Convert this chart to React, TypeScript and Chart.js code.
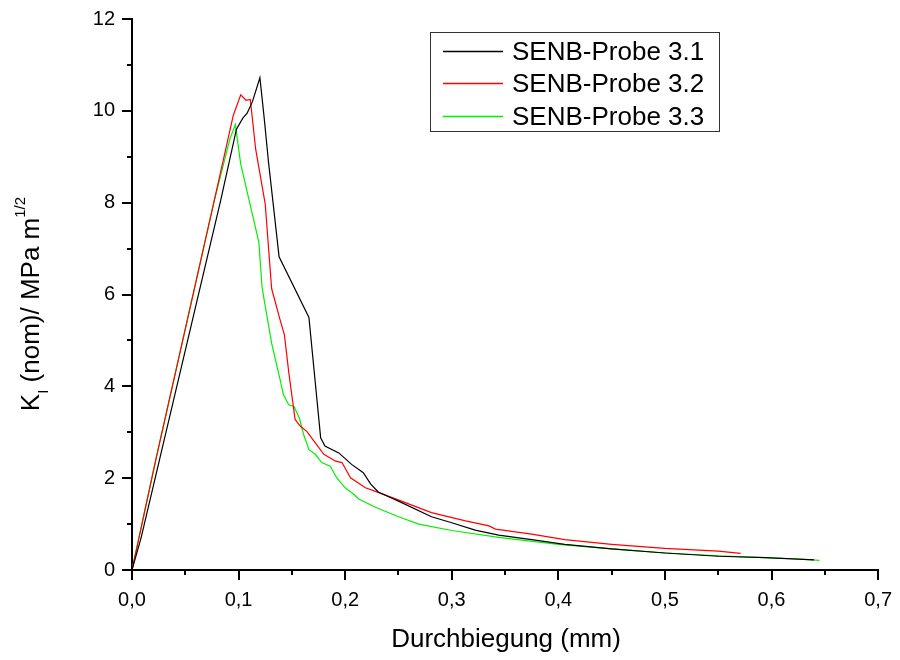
import { useEffect, useRef } from 'react';
import { Chart, registerables } from 'chart.js';

Chart.register(...registerables);

const FONT = '"Liberation Sans", Arial, Helvetica, sans-serif';

const seriesLabels = ['SENB-Probe 3.1', 'SENB-Probe 3.2', 'SENB-Probe 3.3'];
const seriesColors = ['#000000', '#ff0000', '#00f000'];

const probe31X = [0, 0.0084, 0.026, 0.083, 0.098, 0.104, 0.108, 0.113, 0.120, 0.124, 0.128, 0.138, 0.166, 0.177, 0.181, 0.194, 0.206, 0.217, 0.224, 0.231, 0.246, 0.250, 0.281, 0.300, 0.322, 0.344, 0.375, 0.406, 0.450, 0.500, 0.550, 0.594, 0.640];
const probe31Y = [0, 0.69, 2.42, 8.03, 9.6, 9.84, 9.95, 10.2, 10.72, 9.85, 8.9, 6.82, 5.5, 2.88, 2.70, 2.55, 2.30, 2.12, 1.87, 1.70, 1.54, 1.50, 1.16, 1.03, 0.87, 0.76, 0.66, 0.56, 0.46, 0.37, 0.30, 0.27, 0.22];

const probe32X = [0, 0.0225, 0.077, 0.095, 0.102, 0.107, 0.111, 0.116, 0.125, 0.131, 0.139, 0.143, 0.147, 0.153, 0.158, 0.164, 0.172, 0.180, 0.191, 0.197, 0.205, 0.219, 0.231, 0.246, 0.281, 0.313, 0.335, 0.341, 0.375, 0.406, 0.450, 0.500, 0.550, 0.571];
const probe32Y = [0, 2.42, 8.03, 9.9, 10.35, 10.23, 10.25, 9.17, 7.97, 6.13, 5.44, 5.12, 4.32, 3.28, 3.13, 3.02, 2.77, 2.52, 2.37, 2.34, 2.01, 1.79, 1.69, 1.56, 1.25, 1.07, 0.96, 0.89, 0.78, 0.66, 0.56, 0.47, 0.41, 0.36];

const probe33X = [0, 0.0225, 0.077, 0.092, 0.097, 0.102, 0.119, 0.122, 0.124, 0.131, 0.135, 0.139, 0.142, 0.147, 0.152, 0.157, 0.161, 0.166, 0.172, 0.178, 0.186, 0.192, 0.200, 0.208, 0.213, 0.230, 0.250, 0.269, 0.300, 0.344, 0.400, 0.450, 0.500, 0.550, 0.594, 0.625, 0.645];
const probe33Y = [0, 2.42, 8.03, 9.4, 9.7, 8.84, 7.14, 6.17, 5.88, 4.94, 4.54, 4.14, 3.82, 3.60, 3.56, 3.31, 2.95, 2.62, 2.52, 2.34, 2.26, 2.01, 1.79, 1.65, 1.54, 1.35, 1.16, 1.00, 0.86, 0.71, 0.56, 0.46, 0.37, 0.31, 0.27, 0.24, 0.21];

const xMinorTicks = [0.05, 0.15, 0.25, 0.35, 0.45, 0.55, 0.65];
const yMinorTicks = [1, 3, 5, 7, 9, 11];

const xTitle = 'Durchbiegung (mm)';

function pts(xs: number[], ys: number[]) {
  return xs.map((x, i) => ({ x, y: ys[i] }));
}

const decorPlugin = {
  id: 'decor',
  afterDraw(chart: any) {
    const ctx = chart.ctx as CanvasRenderingContext2D;
    const xs = chart.scales.x;
    const ys = chart.scales.y;
    const area = chart.chartArea;
    ctx.save();
    // minor ticks
    ctx.strokeStyle = '#000';
    ctx.lineWidth = 2;
    ctx.beginPath();
    xMinorTicks.forEach((v) => {
      const px = Math.round(xs.getPixelForValue(v));
      ctx.moveTo(px, area.bottom);
      ctx.lineTo(px, area.bottom + 5);
    });
    yMinorTicks.forEach((v) => {
      const py = Math.round(ys.getPixelForValue(v));
      ctx.moveTo(area.left - 5, py);
      ctx.lineTo(area.left, py);
    });
    ctx.stroke();

    // x title
    ctx.fillStyle = '#000';
    ctx.font = `26px ${FONT}`;
    ctx.textAlign = 'center';
    ctx.textBaseline = 'alphabetic';
    ctx.fillText(xTitle, (area.left + area.right) / 2 + 1, 647);

    // y title with subscript / superscript
    const mainFont = `26px ${FONT}`;
    const subFont = `15px ${FONT}`;
    const parts = [
      { t: 'K', f: mainFont, dy: 0 },
      { t: 'I', f: subFont, dy: 9 },
      { t: ' (nom)/ MPa m', f: mainFont, dy: 0 },
      { t: '1/2', f: subFont, dy: -14 },
    ];
    let total = 0;
    const widths = parts.map((p) => {
      ctx.font = p.f;
      const w = ctx.measureText(p.t).width;
      total += w;
      return w;
    });
    ctx.translate(39, 304);
    ctx.rotate(-Math.PI / 2);
    ctx.textAlign = 'left';
    let cx = -total / 2;
    parts.forEach((p, i) => {
      ctx.font = p.f;
      ctx.fillText(p.t, cx, p.dy);
      cx += widths[i];
    });
    ctx.setTransform(1, 0, 0, 1, 0, 0);

    // legend box
    ctx.strokeStyle = '#333';
    ctx.lineWidth = 1;
    ctx.strokeRect(430.5, 32.5, 289, 99);
    const rows = [51.5, 83.5, 116.5];
    seriesLabels.forEach((label, i) => {
      ctx.beginPath();
      ctx.strokeStyle = seriesColors[i];
      ctx.lineWidth = 1.3;
      ctx.moveTo(443, rows[i]);
      ctx.lineTo(503, rows[i]);
      ctx.stroke();
      ctx.fillStyle = '#000';
      ctx.font = `26px ${FONT}`;
      ctx.textAlign = 'left';
      ctx.textBaseline = 'alphabetic';
      ctx.fillText(label, 512, rows[i] + 8.5);
    });
    ctx.restore();
  },
};

export default function App() {
  const ref = useRef<HTMLCanvasElement>(null);
  useEffect(() => {
    if (!ref.current) return;
    const chart = new Chart(ref.current, {
      type: 'line',
      data: {
        datasets: [
          { label: seriesLabels[0], data: pts(probe31X, probe31Y), borderColor: seriesColors[0] },
          { label: seriesLabels[1], data: pts(probe32X, probe32Y), borderColor: seriesColors[1] },
          { label: seriesLabels[2], data: pts(probe33X, probe33Y), borderColor: seriesColors[2] },
        ],
      },
      options: {
        responsive: false,
        animation: false,
        devicePixelRatio: 1,
        layout: { padding: { top: 18, right: 20, left: 0, bottom: 0 } },
        plugins: { legend: { display: false }, tooltip: { enabled: false } },
        elements: {
          point: { radius: 0 },
          line: { borderWidth: 1.2, tension: 0, fill: false },
        },
        scales: {
          x: {
            type: 'linear',
            min: 0,
            max: 0.7,
            ticks: {
              stepSize: 0.1,
              autoSkip: false,
              maxRotation: 0,
              color: '#000',
              padding: 8,
              font: { family: FONT, size: 20 },
              callback: (v: any) => Number(v).toFixed(1).replace('.', ','),
            },
            grid: { drawOnChartArea: false, drawTicks: true, tickLength: 10, color: '#000', lineWidth: 2 },
            border: { display: true, color: '#000', width: 2 },
            afterFit: (s: any) => { s.height = 90; },
          },
          y: {
            type: 'linear',
            min: 0,
            max: 12,
            ticks: {
              stepSize: 2,
              color: '#000',
              padding: 7,
              font: { family: FONT, size: 20 },
              callback: (v: any) => String(v),
            },
            grid: { drawOnChartArea: false, drawTicks: true, tickLength: 10, color: '#000', lineWidth: 2 },
            border: { display: true, color: '#000', width: 2 },
            afterFit: (s: any) => { s.width = 132; },
          },
        },
      },
      plugins: [decorPlugin],
    });
    return () => chart.destroy();
  }, []);
  return (
    <canvas
      ref={ref}
      width={900}
      height={660}
      style={{ position: 'fixed', left: 0, top: 0, width: 900, height: 660 }}
    />
  );
}
